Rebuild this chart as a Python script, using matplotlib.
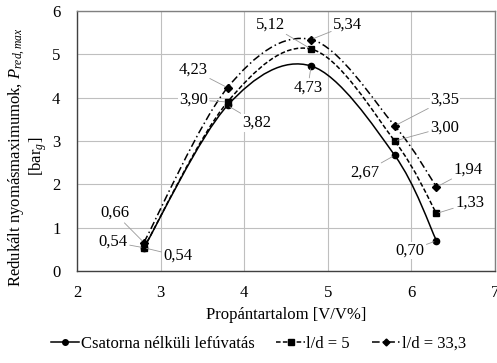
import matplotlib
matplotlib.use("Agg")
import matplotlib.pyplot as plt
from matplotlib.path import Path
from matplotlib.patches import PathPatch
from matplotlib.lines import Line2D
import numpy as np

plt.rcParams['font.family'] = ['Liberation Serif', 'DejaVu Serif']
plt.rcParams['mathtext.fontset'] = 'custom'
plt.rcParams['mathtext.rm'] = 'Liberation Serif'
plt.rcParams['mathtext.it'] = 'Liberation Serif:italic'

propan = [2.8, 3.8, 4.8, 5.8, 6.3]
csatorna = [0.54, 3.82, 4.73, 2.67, 0.70]
ld5 = [0.54, 3.90, 5.12, 3.00, 1.33]
ld33 = [0.66, 4.23, 5.34, 3.35, 1.94]
names = ["Csatorna nélküli lefúvatás", "l/d = 5", "l/d = 33,3"]

# label text positions (data coords), one per point
pos_csatorna = [(3.21, 0.35), (4.15, 3.42), (4.76, 4.22), (5.44, 2.28), (5.98, 0.48)]
pos_ld5 = [(2.43, 0.67), (3.39, 3.95), (4.31, 5.68), (6.40, 3.32), (6.70, 1.57)]
pos_ld33 = [(2.45, 1.34), (3.39, 4.64), (5.24, 5.68), (6.40, 3.95), (6.68, 2.33)]

FS = 12


def smooth_path(x, y):
    # Excel-like smoothed line: cubic bezier through the points
    x = np.asarray(x, float)
    y = np.asarray(y, float)
    n = len(x)
    verts = [(x[0], y[0])]
    codes = [Path.MOVETO]
    for i in range(n - 1):
        p0 = np.array([x[max(i - 1, 0)], y[max(i - 1, 0)]])
        p1 = np.array([x[i], y[i]])
        p2 = np.array([x[i + 1], y[i + 1]])
        p3 = np.array([x[min(i + 2, n - 1)], y[min(i + 2, n - 1)]])
        c1 = p1 + (p2 - p0) / 6.0
        c2 = p2 - (p3 - p1) / 6.0
        verts += [tuple(c1), tuple(c2), tuple(p2)]
        codes += [Path.CURVE4] * 3
    return Path(verts, codes)


fig, ax = plt.subplots(figsize=(4.97, 3.63), dpi=100)
fig.subplots_adjust(left=0.155, right=0.996, top=0.970, bottom=0.253)

series = [
    (csatorna, 'o', '-', 4.5, pos_csatorna),
    (ld5, 's', (0, (3, 1.5)), 4.5, pos_ld5),
    (ld33, 'D', (0, (5, 2, 1, 2)), 4.0, pos_ld33),
]

for vals, mk, ls, ms, pos in series:
    ax.add_patch(PathPatch(smooth_path(propan, vals), fill=False,
                           edgecolor='black', lw=1.1, linestyle=ls))
    ax.plot(propan, vals, linestyle='none', marker=mk, color='black',
            markersize=ms)
    for xv, yv, (tx, ty) in zip(propan, vals, pos):
        ax.annotate(f"{yv:.2f}".replace('.', ','), xy=(xv, yv),
                    xytext=(tx, ty), ha='center', va='center', fontsize=FS,
                    bbox=dict(boxstyle='square,pad=0.05', fc='white', ec='none'),
                    arrowprops=dict(arrowstyle='-', color='#999999', lw=0.6,
                                    shrinkA=1, shrinkB=2))

ax.set_xlim(2, 7)
ax.set_ylim(0, 6)
ax.set_xticks(range(2, 8))
ax.set_yticks(range(0, 7))
ax.grid(True, color='#bfbfbf', lw=0.8)
ax.set_axisbelow(True)
ax.tick_params(length=0, labelsize=FS)
ax.tick_params(axis='y', pad=12)
ax.tick_params(axis='x', pad=10)
for s in ax.spines.values():
    s.set_color('#808080')
    s.set_linewidth(1.0)
ax.spines['left'].set_color('#404040')
ax.spines['bottom'].set_color('#404040')

ax.set_xlabel("Propántartalom [V/V%]", fontsize=FS, labelpad=4)
ax.set_ylabel("Redukált nyomásmaximumok, $P_{red,max}$\n[bar$_g$]",
              fontsize=FS, labelpad=2, linespacing=1.0)
ax.yaxis.set_label_coords(-0.068, 0.44)

handles = [
    Line2D([], [], color='black', ls='-', marker='o', markersize=4, lw=1.1),
    Line2D([], [], color='black', ls=(0, (3, 1.5)), marker='s', markersize=4, lw=1.1),
    Line2D([], [], color='black', ls=(0, (5, 2, 1, 2)), marker='D', markersize=3.5, lw=1.1),
]
fig.legend(handles, names, loc='lower center', bbox_to_anchor=(0.52, -0.01),
           ncol=3, frameon=False, fontsize=FS, handlelength=1.7,
           handletextpad=0.1, columnspacing=1.3)

fig.savefig("out.png", dpi=100)
